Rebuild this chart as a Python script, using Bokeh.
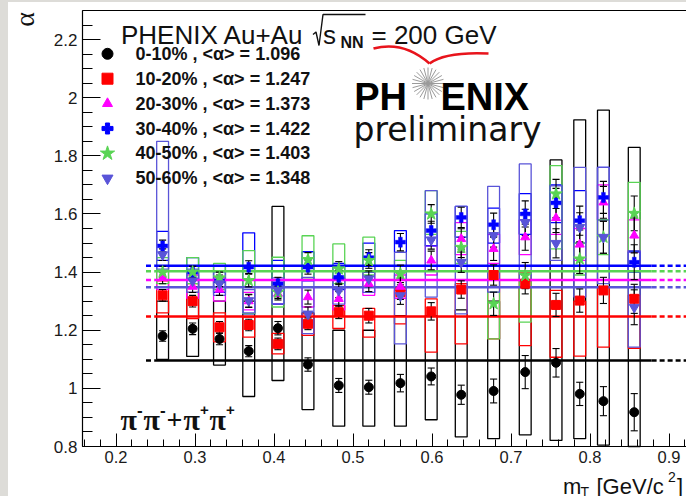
import math
from bokeh.plotting import figure
from bokeh.models import Range1d, FixedTicker, Label, PrintfTickFormatter, Div
from bokeh.layouts import column, row
from bokeh.embed import file_html
from bokeh.resources import INLINE

# ---- data -------------------------------------------------------------
# m_T bin centres [GeV/c^2]
mt = [0.259, 0.297, 0.331, 0.368, 0.405, 0.443, 0.482, 0.520, 0.560,
      0.599, 0.637, 0.678, 0.718, 0.757, 0.787, 0.817, 0.856]

centralities = ["0-10%", "10-20%", "20-30%", "30-40%", "40-50%", "50-60%"]
mean_alpha = [1.096, 1.247, 1.373, 1.422, 1.403, 1.348]

# 0-10 %
alpha_c0 = [1.180, 1.205, 1.170, 1.128, 1.207, 1.082, 1.010, 1.004, 1.018,
            1.041, 0.978, 0.991, 1.056, 1.088, 0.981, 0.956, 0.918]
stat_c0 = [0.018, 0.020, 0.020, 0.019, 0.023, 0.023, 0.024, 0.024, 0.030,
           0.029, 0.033, 0.041, 0.057, 0.049, 0.040, 0.050, 0.064]
sys_lo_c0 = [1.10, 1.11, 1.08, 0.972, 1.027, 0.927, 0.870, 0.870, 0.870,
             0.892, 0.833, 0.827, 0.840, 0.821, 0.827, 0.805, 0.800]
sys_hi_c0 = [1.30, 1.33, 1.30, 1.30, 1.626, 1.26, 1.20, 1.20, 1.25,
             1.25, 1.27, 1.30, 1.35, 1.786, 1.924, 1.957, 1.829]

# 10-20 %
alpha_c1 = [1.320, 1.300, 1.210, 1.218, 1.153, 1.222, 1.262, 1.250, 1.331,
            1.265, 1.340, 1.390, 1.360, 1.287, 1.302, 1.337, 1.308]
stat_c1 = [0.020, 0.020, 0.020, 0.020, 0.020, 0.020, 0.022, 0.025, 0.025,
           0.030, 0.030, 0.035, 0.035, 0.040, 0.040, 0.045, 0.050]
sys_lo_c1 = [1.26, 1.24, 1.16, 1.176, 1.119, 1.182, 1.206, 1.176, 1.222,
             1.125, 1.153, 1.170, 1.147, 1.107, 1.111, 1.142, 1.138]
sys_hi_c1 = [1.37, 1.36, 1.26, 1.245, 1.189, 1.256, 1.285, 1.275, 1.337,
             1.308, 1.360, 1.420, 1.400, 1.337, 1.300, 1.348, 1.320]

# 20-30 %
alpha_c2 = [1.380, 1.350, 1.340, 1.300, 1.326, 1.314, 1.308, 1.360, 1.350,
            1.440, 1.514, 1.480, 1.520, 1.586, 1.495, 1.640, 1.526]
stat_c2 = [0.020, 0.020, 0.020, 0.022, 0.022, 0.024, 0.025, 0.027, 0.030,
           0.032, 0.035, 0.040, 0.045, 0.050, 0.050, 0.055, 0.060]
sys_lo_c2 = [1.34, 1.31, 1.30, 1.27, 1.29, 1.28, 1.27, 1.32, 1.31,
             1.39, 1.46, 1.43, 1.46, 1.53, 1.44, 1.58, 1.47]
sys_hi_c2 = [1.42, 1.39, 1.38, 1.33, 1.36, 1.35, 1.35, 1.40, 1.39,
             1.49, 1.57, 1.53, 1.58, 1.64, 1.55, 1.70, 1.58]

# 30-40 %
alpha_c3 = [1.490, 1.400, 1.370, 1.417, 1.360, 1.417, 1.382, 1.450, 1.503,
            1.543, 1.588, 1.563, 1.600, 1.638, 1.577, 1.657, 1.434]
stat_c3 = [0.020, 0.020, 0.020, 0.022, 0.022, 0.024, 0.025, 0.027, 0.030,
           0.032, 0.035, 0.040, 0.045, 0.050, 0.050, 0.055, 0.060]
sys_lo_c3 = [1.44, 1.35, 1.33, 1.256, 1.29, 1.37, 1.34, 1.40, 1.468,
             1.49, 1.52, 1.50, 1.53, 1.57, 1.50, 1.58, 1.40]
sys_hi_c3 = [1.54, 1.45, 1.42, 1.535, 1.44, 1.47, 1.43, 1.50, 1.543,
             1.60, 1.626, 1.62, 1.67, 1.70, 1.68, 1.76, 1.47]

# 40-50 %
alpha_c4 = [1.400, 1.400, 1.380, 1.371, 1.331, 1.443, 1.411, 1.440, 1.394,
            1.600, 1.485, 1.291, 1.388, 1.669, 1.445, 1.520, 1.602]
stat_c4 = [0.020, 0.020, 0.020, 0.022, 0.022, 0.024, 0.025, 0.027, 0.030,
           0.032, 0.035, 0.040, 0.045, 0.050, 0.050, 0.055, 0.060]
sys_lo_c4 = [1.36, 1.36, 1.34, 1.257, 1.28, 1.38, 1.36, 1.39, 1.35,
             1.53, 1.43, 1.170, 1.228, 1.480, 1.39, 1.46, 1.474]
sys_hi_c4 = [1.45, 1.45, 1.43, 1.474, 1.451, 1.525, 1.497, 1.520, 1.44,
             1.680, 1.54, 1.331, 1.405, 1.766, 1.50, 1.58, 1.709]

# 50-60 %
alpha_c5 = [1.460, 1.370, 1.360, 1.302, 1.337, 1.256, 1.337, 1.377, 1.319,
            1.511, 1.434, 1.526, 1.571, 1.499, 1.554, 1.520, 1.279]
stat_c5 = [0.020, 0.020, 0.020, 0.022, 0.022, 0.024, 0.025, 0.027, 0.030,
           0.032, 0.035, 0.040, 0.045, 0.050, 0.050, 0.055, 0.060]
sys_lo_c5 = [1.41, 1.33, 1.32, 1.26, 1.29, 1.188, 1.29, 1.33, 1.153,
             1.314, 1.256, 1.331, 1.37, 1.440, 1.314, 1.36, 1.142]
sys_hi_c5 = [1.85, 1.41, 1.40, 1.34, 1.38, 1.382, 1.38, 1.42, 1.468,
             1.680, 1.626, 1.695, 1.772, 1.697, 1.76, 1.76, 1.474]

x_ticks = [0.2, 0.3, 0.4, 0.5, 0.6, 0.7, 0.8, 0.9]
y_ticks = [0.8, 1.0, 1.2, 1.4, 1.6, 1.8, 2.0, 2.2]

# ---- style ------------------------------------------------------------
colors = ["#000000", "#ff0000", "#ff00ff", "#0000ff", "#59d454", "#5954d8"]
markers = ["circle", "square", "triangle", "plus", "star", "inverted_triangle"]
marker_sizes = [9, 9, 9, 10, 13, 10]
legend_sizes = [11, 11, 10, 11, 15, 11]
GREY = "#dddcd8"
BOX_HALF = 0.0075
CAP_HALF = 0.0045
STUB_START, LINE_START, LINE_END = 0.238, 0.249, 0.878

series = [
    (alpha_c0, stat_c0, sys_lo_c0, sys_hi_c0),
    (alpha_c1, stat_c1, sys_lo_c1, sys_hi_c1),
    (alpha_c2, stat_c2, sys_lo_c2, sys_hi_c2),
    (alpha_c3, stat_c3, sys_lo_c3, sys_hi_c3),
    (alpha_c4, stat_c4, sys_lo_c4, sys_hi_c4),
    (alpha_c5, stat_c5, sys_lo_c5, sys_hi_c5),
]

# axis frame: m_T 0.1576 .. (page edge), alpha 0.8 .. 2.3
X_AXIS_MIN = 0.15759
Y_AXIS_MIN, Y_AXIS_MAX = 0.8, 2.3
PX_PER_X = 790.0     # pixels per GeV/c^2
PX_PER_Y = 290.67    # pixels per unit alpha


# page-pixel position -> data coordinates (m_T 0.2 at x=115.5, alpha 0.8 at y=446)
def X(px):
    return 0.2 + (px - 115.5) / PX_PER_X


def Y(py):
    return 0.8 + (446.0 - py) / PX_PER_Y


# the plot canvas covers page pixels x 8..686, y 2..496
X_LO, X_HI = X(8), X(686)
Y_LO, Y_HI = Y(496), Y(2)

p = figure(width=678, height=494, x_range=Range1d(X_LO, X_HI),
           y_range=Range1d(Y_LO, Y_HI), output_backend="svg",
           toolbar_location=None, min_border=0)
p.outline_line_color = None
p.grid.grid_line_color = None
p.background_fill_color = "white"
p.border_fill_color = "white"

# axes pinned to the frame corner
xa = p.xaxis[0]
xa.ticker = FixedTicker(ticks=x_ticks,
                        minor_ticks=[round(0.16 + 0.02 * i, 2) for i in range(39)])
xa.fixed_location = Y_AXIS_MIN
xa.bounds = (X_AXIS_MIN, X_HI)
ya = p.yaxis[0]
ya.ticker = FixedTicker(ticks=y_ticks,
                        minor_ticks=[round(0.8 + 0.05 * i, 2) for i in range(31)])
ya.fixed_location = X_AXIS_MIN
ya.bounds = (Y_AXIS_MIN, Y_AXIS_MAX)
for ax in (xa, ya):
    ax.formatter = PrintfTickFormatter(format="%g")
    ax.axis_line_color = "black"
    ax.axis_line_width = 1.2
    ax.major_tick_line_color = "black"
    ax.minor_tick_line_color = "black"
    ax.major_tick_out = 0
    ax.minor_tick_out = 0
    ax.major_label_text_font = "Liberation Sans"
    ax.major_label_text_color = "#1a1a1a"
xa.major_tick_in = 13
xa.minor_tick_in = 7
xa.major_label_text_font_size = "16.5px"
xa.major_label_standoff = 4
ya.major_tick_in = 18
ya.minor_tick_in = 10
ya.major_label_text_font_size = "17px"
ya.major_label_standoff = 5

# top edge of the frame
p.segment(x0=[X_AXIS_MIN], x1=[X_HI], y0=[Y_AXIS_MAX], y1=[Y_AXIS_MAX],
          line_color="black", line_width=1.2)

# systematic boxes
for (a, e, lo, hi), c in zip(series, colors):
    p.quad(left=[m - BOX_HALF for m in mt], right=[m + BOX_HALF for m in mt],
           bottom=lo, top=hi, fill_color=None, line_color=c, line_width=1.3)

# mean alpha lines: solid over the data, dashed beyond
for mval, c in zip(mean_alpha, colors):
    p.segment(x0=[LINE_START], x1=[LINE_END], y0=[mval], y1=[mval],
              line_color=c, line_width=2.6)
    p.segment(x0=[LINE_END, STUB_START], x1=[X_HI, LINE_START],
              y0=[mval, mval], y1=[mval, mval],
              line_color=c, line_width=2.6, line_dash="5 3")

# statistical error bars
for (a, e, lo, hi) in series:
    lows = [v - s for v, s in zip(a, e)]
    highs = [v + s for v, s in zip(a, e)]
    p.segment(x0=mt, x1=mt, y0=lows, y1=highs, line_color="black", line_width=1.1)
    p.segment(x0=[m - CAP_HALF for m in mt], x1=[m + CAP_HALF for m in mt],
              y0=lows, y1=lows, line_color="black", line_width=1.1)
    p.segment(x0=[m - CAP_HALF for m in mt], x1=[m + CAP_HALF for m in mt],
              y0=highs, y1=highs, line_color="black", line_width=1.1)

# points
for (a, e, lo, hi), c, mk, sz in zip(series, colors, markers, marker_sizes):
    p.scatter(x=mt, y=a, marker=mk, size=sz, fill_color=c, line_color=c,
              line_width=1 if mk != "plus" else 0.5)

# ---- legend -----------------------------------------------------------
legend_rows = [53.3, 78.2, 103.1, 128.0, 152.9, 177.8]
p.scatter(x=[X(107)] * 6, y=[Y(r) for r in legend_rows], marker=markers,
          size=legend_sizes, fill_color=colors, line_color=colors)
for cen, mval, r in zip(centralities, mean_alpha, legend_rows):
    p.add_layout(Label(x=X(135), y=Y(r), text=f"{cen} , <\u03b1> = {mval:.3f}",
                       text_font="Liberation Sans", text_font_style="bold",
                       text_font_size="18px", text_baseline="middle",
                       text_color="#111111"))


def txt(text, px, py, size, font="Liberation Sans", style="normal",
        align="left", baseline="alphabetic", color="#111111", angle=0.0):
    p.add_layout(Label(x=X(px), y=Y(py), text=text, text_font=font,
                       text_font_style=style, text_font_size=size,
                       text_align=align, text_baseline=baseline,
                       text_color=color, angle=angle))


# header: PHENIX Au+Au sqrt(s_NN) = 200 GeV
txt("PHENIX Au+Au", 120.5, 34.5, "26px")
p.line(x=[X(312.5), X(315.5), X(318.5), X(322.5), X(365)],
       y=[Y(34), Y(31.5), Y(45), Y(14), Y(14)],
       line_color="#111111", line_width=1.4)
txt("s", 322.5, 34.5, "26px")
txt("NN", 340, 41.5, "16px", style="bold")
txt("= 200 GeV", 371, 34.5, "26px")

# PHENIX preliminary mark
p.quadratic(x0=[X(373), X(429)], y0=[Y(48), Y(63)],
            x1=[X(429), X(488)], y1=[Y(63), Y(53)],
            cx=[X(403), X(445)], cy=[Y(40), Y(51)],
            line_color="#e8141c", line_width=2.6)
txt("PH", 406.5, 96.5, "38px", style="bold", align="right", color="#000000")
txt("ENIX", 440, 96.5, "38px", style="bold", color="#000000")
p.scatter(x=[X(427.5)] * 3, y=[Y(83)] * 3, marker="asterisk", size=32,
          angle=[0.0, math.pi / 12, math.pi / 6], line_color="#9a9a9a",
          line_width=1)
txt("preliminary", 353, 128.5, "33px", font="DejaVu Sans", color="#111111")

# channel label pi- pi- + pi+ pi+
pi_font = "Liberation Serif"
txt("\u03c0", 120, 419, "30px", font=pi_font, style="bold")
txt("-", 136.5, 409, "17px", style="bold")
txt("\u03c0", 143, 419, "30px", font=pi_font, style="bold")
txt("-", 159.5, 409, "17px", style="bold")
txt("+", 166, 419, "28px", font=pi_font, style="bold")
txt("\u03c0", 183, 419, "30px", font=pi_font, style="bold")
txt("+", 199.5, 409, "15px", style="bold")
txt("\u03c0", 209, 419, "30px", font=pi_font, style="bold")
txt("+", 225.5, 409, "15px", style="bold")

# axis titles
txt("\u03b1", 24, 19, "28px", font="Liberation Serif", align="center",
    baseline="middle", angle=math.pi / 2)
txt("m", 562.5, 486, "22px")
txt("T", 580, 491, "14px")
txt("[GeV/c", 596, 486, "22px")
txt("2", 667.5, 476, "14px")
txt("]", 676.5, 486, "22px")

top_strip = Div(width=686, height=2, margin=0,
                styles={"background-color": GREY})
left_strip = Div(width=8, height=494, margin=0,
                 styles={"background-color": GREY})
page = column(top_strip, row(left_strip, p, spacing=0), spacing=0)

open("out.html", "w").write(file_html(page, INLINE))
